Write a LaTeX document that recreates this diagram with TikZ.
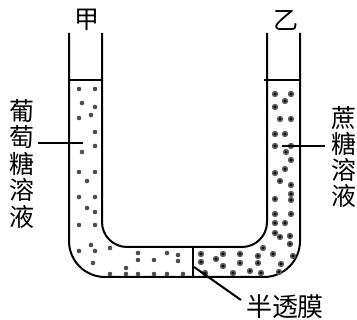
\documentclass[tikz,border=0pt]{standalone}
\usepackage{fontspec}
\newfontfamily\cjk{Noto Sans CJK SC}
\begin{document}
\begin{tikzpicture}[x=1pt,y=-1pt,line width=2pt,
    lbl/.style={inner sep=0pt,align=center,font=\cjk\fontsize{25}{26.5}\selectfont}]
\useasboundingbox (0,0) rectangle (357,320);
% U tube walls
\draw[rounded corners=36pt] (69,33) -- (69,277) -- (300,277) -- (300,33);
\draw[rounded corners=25pt] (102,33) -- (102,247) -- (267,247) -- (267,33);
% liquid levels
\draw (69,80) -- (102,80);
\draw (264,80) -- (300,80);
% membrane
\coordinate (mem-top) at (193,247);
\coordinate (mem-bot) at (193,277);
\draw (mem-top) -- (mem-bot);
% glucose side
\foreach \x/\y in {79/89,95/89,82/103,95/107,79/118,91/115,95/132,95/146,82/152,
    79/172,95/172,87/181,79/197,95/197,87/208,95/212,79/225,95/225,91/245,95/251,
    79/251,93/263,110/248,138/253,138/260,154/260,167/253,178/255,178/261,
    110/274,126/274,138/274,154/274,167/274,183/274,126/268}
  \fill[black!70] (\x,\y) circle (2.3pt);
% sucrose side
\foreach \x/\y in {275/94,291/94,285/101,275/107,280/119,291/119,275/134,285/134,
    275/146,291/146,286/152,291/160,285/169,275/173,280/181,291/185,275/199,
    291/194,291/200,275/214,291/214,275/223,285/223,275/233,280/237,290/236,
    290/244,293/256,281/264,279/272,263/248,273/254,258/256,258/263,261/273,
    250/271,240/254,240/263,233/273,223/254,223/266,216/259,201/254,201/262,205/273}
  {\fill[black!65] (\x,\y) circle (3.2pt);
   \fill[black] (\x,\y) circle (1.3pt);}
% labels
\node[lbl] (jia) at (87,20) {甲};
\node[lbl] (yi) at (286,20) {乙};
\node[lbl] (glulabel) at (22,164) {葡\\萄\\糖\\溶\\液};
\node[lbl,font=\cjk\fontsize{25}{25.7}\selectfont] (suclabel) at (344,157) {蔗\\糖\\溶\\液};
\node[lbl,font=\cjk\fontsize{26}{27}\selectfont] (memlabel) at (285,307) {半透膜};
% pointers
\coordinate (glu-in) at (83,143);
\coordinate (suc-in) at (282,146);
\coordinate (mem-pt) at (194,267);
\draw (38,143) -- (glu-in);
\draw (suc-in) -- (325,146);
\draw (mem-pt) -- ([xshift=-4pt,yshift=-6pt]memlabel.north west);
\end{tikzpicture}
\end{document}
